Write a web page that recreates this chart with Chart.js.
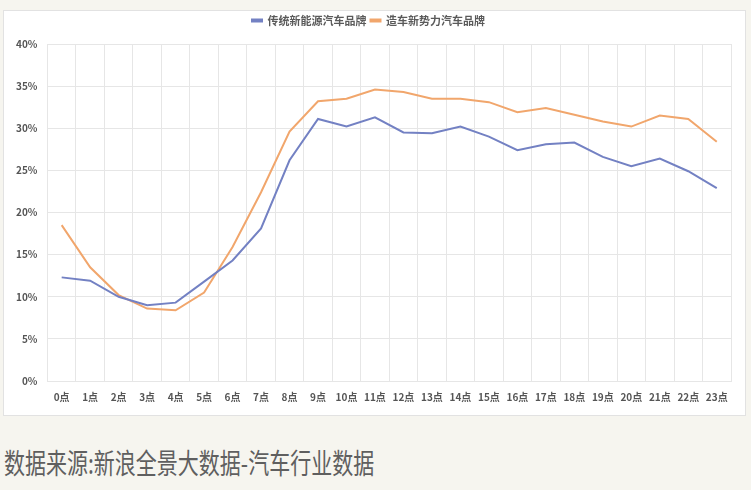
<!DOCTYPE html>
<html>
<head>
<meta charset="utf-8">
<script src="https://cdn.jsdelivr.net/npm/chart.js@4.4.0/dist/chart.umd.min.js"></script>
<style>
  html, body { margin: 0; padding: 0; background: #f6f5ef; width: 751px; height: 490px; overflow: hidden; }
  #box { position: absolute; left: 3px; top: 10px; width: 741px; height: 404px; background: #fff; border: 1px solid #e2e2e2; }
  #source { position: absolute; left: 4px; top: 442px; font-family: "Noto Sans CJK SC", sans-serif; font-size: 28px; color: #5f5f5f;
            transform: scale(0.75, 1); transform-origin: left top; white-space: nowrap; }
</style>
</head>
<body>
<div id="box"><canvas id="myChart"></canvas></div>
<div id="source">数据来源:新浪全景大数据-汽车行业数据</div>
<script>
var hours = ['0点','1点','2点','3点','4点','5点','6点','7点','8点','9点','10点','11点',
             '12点','13点','14点','15点','16点','17点','18点','19点','20点','21点','22点','23点'];
/* 传统新能源汽车品牌 */
var traditionalShare = [12.3, 11.9, 10.0, 9.0, 9.3, 11.8, 14.3, 18.1, 26.2, 31.1, 30.2, 31.3,
                        29.5, 29.4, 30.2, 29.0, 27.4, 28.1, 28.3, 26.6, 25.5, 26.4, 24.9, 22.9];
/* 造车新势力汽车品牌 */
var newForcesShare = [18.5, 13.5, 10.2, 8.6, 8.4, 10.5, 15.9, 22.4, 29.6, 33.2, 33.5, 34.6,
                      34.3, 33.5, 33.5, 33.1, 31.9, 32.4, 31.6, 30.8, 30.2, 31.5, 31.1, 28.4];
var seriesNames = ['传统新能源汽车品牌', '造车新势力汽车品牌'];
var yMin = 0, yMax = 40, yStep = 5;

var box = document.getElementById('box');
var canvas = document.getElementById('myChart');
canvas.width = box.clientWidth;
canvas.height = box.clientHeight;
var ctx = canvas.getContext('2d');

var fontFamily = '"Noto Sans CJK SC", "Noto Sans", sans-serif';

// extra room under the legend
var legendGap = {
    id: 'legendGap',
    beforeInit: function(chart) {
        var origFit = chart.legend.fit;
        chart.legend.fit = function() {
            origFit.bind(chart.legend)();
            this.height += 8;
        };
    }
};

var myChart = new Chart(ctx, {
    type: 'line',
    data: {
        labels: hours,
        datasets: [{
            label: seriesNames[0],
            data: traditionalShare,
            borderColor: '#7381c3',
            backgroundColor: '#7381c3',
            borderWidth: 2,
            pointRadius: 0,
            tension: 0
        }, {
            label: seriesNames[1],
            data: newForcesShare,
            borderColor: '#f1a66c',
            backgroundColor: '#f1a66c',
            borderWidth: 2,
            pointRadius: 0,
            tension: 0
        }]
    },
    options: {
        responsive: false,
        animation: false,
        layout: { padding: { left: 2, right: 14, top: 0, bottom: 2 } },
        plugins: {
            legend: {
                position: 'top',
                labels: {
                    boxWidth: 10,
                    boxHeight: 2,
                    padding: 4,
                    color: '#5a5a5a',
                    font: { family: fontFamily, size: 11, weight: 'bold' }
                }
            },
            tooltip: { enabled: false }
        },
        scales: {
            x: {
                offset: true,
                grid: { color: '#e6e6e6', offset: true, drawTicks: false },
                border: { color: '#e6e6e6' },
                ticks: {
                    padding: 10,
                    color: '#555',
                    maxRotation: 0,
                    autoSkip: false,
                    font: { family: fontFamily, size: 10, weight: 'bold' }
                }
            },
            y: {
                min: yMin,
                max: yMax,
                grid: { color: '#e6e6e6', drawTicks: false },
                border: { display: false },
                ticks: {
                    stepSize: yStep,
                    padding: 10,
                    color: '#555',
                    font: { family: fontFamily, size: 10, weight: 'bold' },
                    callback: function(v) { return v + '%'; }
                }
            }
        }
    },
    plugins: [legendGap]
});
</script>
</body>
</html>
